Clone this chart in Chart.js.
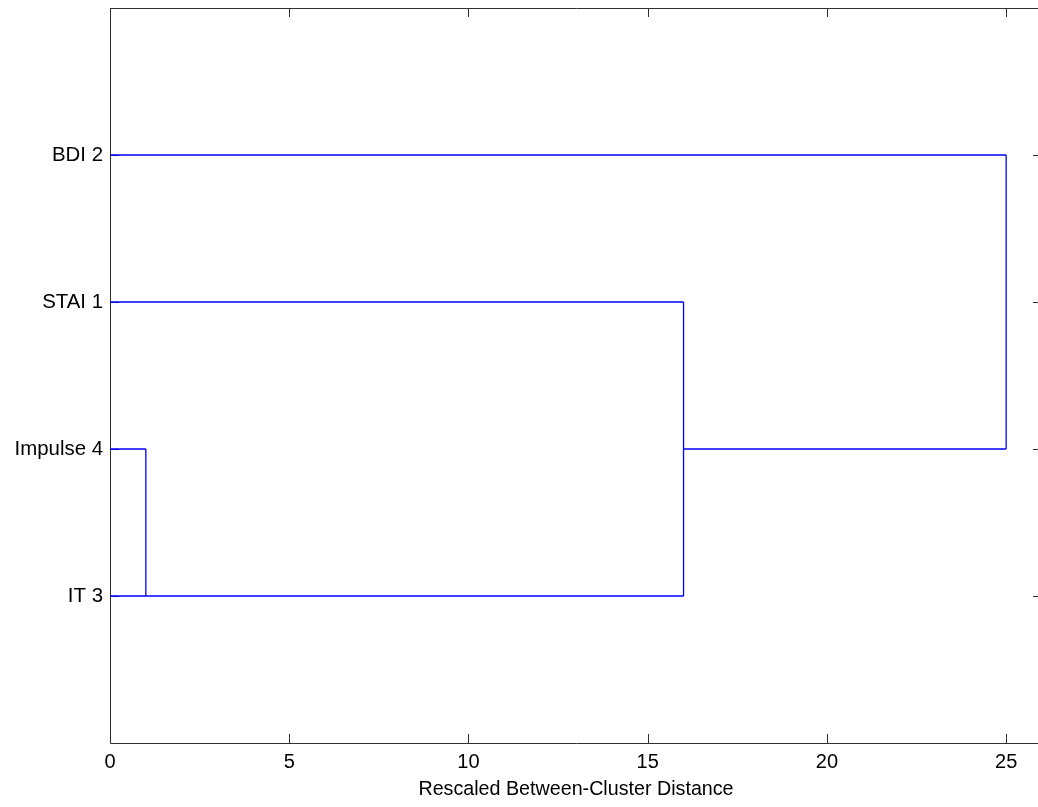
<!DOCTYPE html>
<html>
<head>
<meta charset="utf-8">
<script src="https://cdn.jsdelivr.net/npm/chart.js@4.4.1/dist/chart.umd.min.js"></script>
<style>
  html, body { margin: 0; padding: 0; background: #fff; overflow: hidden; }
  #wrap { position: absolute; left: 0; top: 0; width: 1050px; height: 807px; }
</style>
</head>
<body>
<div id="wrap"><canvas id="chart"></canvas></div>
<script>
// ==================== 数据 ====================
// 叶子（自下而上）
const leafNames = ['IT 3', 'Impulse 4', 'STAI 1', 'BDI 2'];
const leafY = [1, 2, 3, 4];
const leafEnd = [1, 1, 16, 25];        // 每个叶子水平线结束的距离

// 合并步骤
const mergeDist = [1, 16, 25];         // 合并距离
const mergeLowY = [1, 1, 2];           // 竖线下端
const mergeHighY = [2, 3, 4];          // 竖线上端
const clusterY = [1, 2];               // 新簇延伸线所在的行

const xTicks = [0, 5, 10, 15, 20, 25];
const xTitle = 'Rescaled Between-Cluster Distance';

// ==================== 构建线段 ====================
const BLUE = '#0000ff';
const datasets = [];

function addSegment(points) {
    datasets.push({
        data: points,
        showLine: true,
        borderColor: BLUE,
        borderWidth: 1.3,
        pointRadius: 0,
        tension: 0,
        fill: false
    });
}

// 叶子水平线
leafY.forEach((y, i) => addSegment([{ x: 0, y: y }, { x: leafEnd[i], y: y }]));
// 合并竖线
mergeDist.forEach((d, i) => addSegment([{ x: d, y: mergeLowY[i] }, { x: d, y: mergeHighY[i] }]));
// 簇之间的水平线
clusterY.forEach((y, i) => addSegment([{ x: mergeDist[i], y: y }, { x: mergeDist[i + 1], y: y }]));

// ==================== 边框和内向刻度（先画，线段覆盖在上面） ====================
const framePlugin = {
    id: 'frame',
    beforeDatasetsDraw(chart) {
        const ctx = chart.ctx;
        const a = chart.chartArea;
        const xs = chart.scales.x;
        const ys = chart.scales.y;
        const len = 9;
        ctx.save();
        ctx.strokeStyle = '#303030';
        ctx.lineWidth = 1;
        ctx.beginPath();
        ctx.rect(Math.round(a.left) + 0.5, Math.round(a.top) + 0.5,
                 Math.round(a.right - a.left), Math.round(a.bottom - a.top));
        xTicks.forEach(v => {
            const px = Math.round(xs.getPixelForValue(v)) + 0.5;
            ctx.moveTo(px, a.bottom); ctx.lineTo(px, a.bottom - len);
            ctx.moveTo(px, a.top); ctx.lineTo(px, a.top + len);
        });
        leafY.forEach(v => {
            const py = Math.round(ys.getPixelForValue(v)) + 0.5;
            ctx.moveTo(a.left, py); ctx.lineTo(a.left + len, py);
            ctx.moveTo(a.right, py); ctx.lineTo(a.right - len, py);
        });
        ctx.stroke();
        ctx.restore();
    }
};

// ==================== 创建图表 ====================
new Chart(document.getElementById('chart'), {
    type: 'scatter',
    data: { datasets: datasets },
    options: {
        responsive: true,
        maintainAspectRatio: false,
        animation: false,
        events: [],
        layout: { padding: { left: 0, top: 8, right: 8, bottom: 0 } },
        plugins: {
            legend: { display: false },
            tooltip: { enabled: false }
        },
        scales: {
            x: {
                type: 'linear',
                min: 0,
                max: 26,
                afterBuildTicks: scale => { scale.ticks = xTicks.map(v => ({ value: v })); },
                afterFit: scale => {
                    scale.height = 64;
                    scale.paddingLeft = 0;
                    scale.paddingRight = 0;
                },
                grid: { display: false, drawTicks: false },
                border: { display: false },
                ticks: {
                    color: '#000',
                    padding: 7,
                    maxRotation: 0,
                    font: { family: 'Arial, "Liberation Sans", sans-serif', size: 20 }
                },
                title: {
                    display: true,
                    text: xTitle,
                    color: '#000',
                    padding: { top: 0, bottom: 6 },
                    font: { family: 'Arial, "Liberation Sans", sans-serif', size: 19.7 }
                }
            },
            y: {
                type: 'linear',
                min: 0,
                max: 5,
                afterBuildTicks: scale => { scale.ticks = leafY.map(v => ({ value: v })); },
                afterFit: scale => {
                    scale.width = 110;
                    scale.paddingTop = 0;
                    scale.paddingBottom = 0;
                },
                grid: { display: false, drawTicks: false },
                border: { display: false },
                ticks: {
                    color: '#000',
                    padding: 7,
                    font: { family: 'Arial, "Liberation Sans", sans-serif', size: 20.4 },
                    callback: value => leafNames[leafY.indexOf(value)] || ''
                }
            }
        }
    },
    plugins: [framePlugin]
});
</script>
</body>
</html>
